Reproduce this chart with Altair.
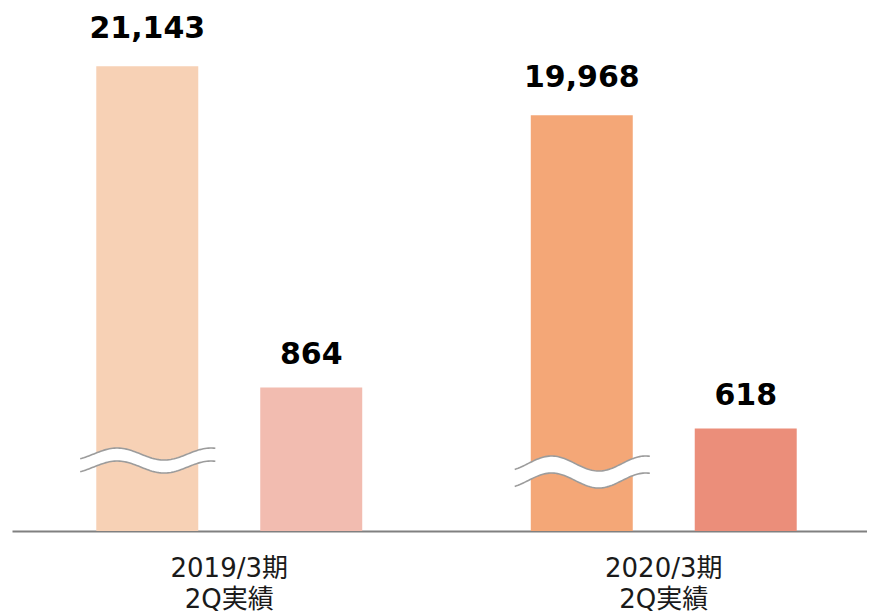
import altair as alt
import pandas as pd
import numpy as np

# ---- data ----
periods = ["2019/3期 2Q実績", "2020/3期 2Q実績"]
series_names = ["売上高", "営業利益"]
sales = [21143, 19968]
profit = [864, 618]

# broken axis: tall bars drawn on their own scale that starts at big_floor
big_floor = 10000
big_top = 22540
small_top = 3150

# break symbol (values on the tall-bar scale)
break_mid = [11846, 11618]
break_amp = [144, 180]
break_gap = [312, 408]

big_colors = ["#F7D1B5", "#F4A777"]
small_colors = ["#F2BCB0", "#EB8E7A"]

big_df = pd.DataFrame({"period": periods, "series": series_names[0], "value": sales})
small_df = pd.DataFrame({"period": periods, "series": series_names[1], "value": profit})

# wavy break decoration (in group units along x)
rows = []
for i, p in enumerate(periods):
    for r in np.linspace(-0.154, 0.157, 80):
        up = break_mid[i] + break_amp[i] * np.cos(2 * np.pi * (r + 0.069) / 0.2163)
        rows.append({"period": p, "x": i + 0.311 + r, "upper": up, "lower": up - break_gap[i]})
wave_df = pd.DataFrame(rows)

W, H = 859, 523
XR = [4, 873]

xscale = alt.Scale(domain=periods, range=XR, paddingInner=0, paddingOuter=0)
offscale = alt.Scale(type="band", domain=series_names, paddingInner=0.378, paddingOuter=0.514)
big_y = alt.Scale(domain=[big_floor, big_top], zero=False, nice=False)
small_y = alt.Scale(domain=[0, small_top], nice=False)

label_font = "DejaVu Sans, Noto Sans CJK JP"

x_axis = alt.Axis(
    title=None, labelExpr="split(datum.label, ' ')", labelAngle=0,
    ticks=False, tickSize=0, grid=False,
    domainColor="#808080", domainWidth=2,
    labelFont=label_font, labelFontSize=26, labelColor="#1a1a1a",
    labelPadding=24, labelLineHeight=31, labelBaseline="top",
)

big_bars = alt.Chart(big_df).mark_bar().encode(
    x=alt.X("period:N", scale=xscale, axis=x_axis, sort=periods),
    xOffset=alt.XOffset("series:N", scale=offscale),
    y=alt.Y("value:Q", scale=big_y, axis=None),
    y2=alt.datum(big_floor),
    color=alt.Color("period:N", scale=alt.Scale(domain=periods, range=big_colors), legend=None),
)

small_bars = alt.Chart(small_df).mark_bar().encode(
    x=alt.X("period:N", scale=xscale, axis=None, sort=periods),
    xOffset=alt.XOffset("series:N", scale=offscale),
    y=alt.Y("value:Q", scale=small_y, axis=None),
    color=alt.Color("period:N", scale=alt.Scale(domain=periods, range=small_colors), legend=None),
)

wave_x = alt.X("x:Q", scale=alt.Scale(domain=[0, 2], range=XR, nice=False, zero=False), axis=None)

wave_fill = alt.Chart(wave_df).mark_area(color="white", opacity=1).encode(
    x=wave_x,
    y=alt.Y("upper:Q", scale=big_y, axis=None),
    y2="lower:Q",
    detail="period:N",
)

wave_lines = alt.Chart(wave_df).transform_fold(
    ["upper", "lower"], as_=["edge", "val"]
).mark_line(color="#9c9c9c", strokeWidth=1.6).encode(
    x=wave_x,
    y=alt.Y("val:Q", scale=big_y, axis=None),
    detail=["period:N", "edge:N"],
)

text_style = dict(font="DejaVu Sans", fontSize=30, fontWeight="bold", color="black", baseline="alphabetic")

big_text = alt.Chart(big_df).mark_text(dy=-28.5, **text_style).encode(
    x=alt.X("period:N", scale=xscale, axis=None, sort=periods),
    xOffset=alt.XOffset("series:N", scale=offscale),
    y=alt.Y("value:Q", scale=big_y, axis=None),
    text=alt.Text("value:Q", format=","),
)

small_text = alt.Chart(small_df).mark_text(dy=-23.5, **text_style).encode(
    x=alt.X("period:N", scale=xscale, axis=None, sort=periods),
    xOffset=alt.XOffset("series:N", scale=offscale),
    y=alt.Y("value:Q", scale=small_y, axis=None),
    text=alt.Text("value:Q", format=","),
)

chart = alt.layer(
    big_bars, small_bars, wave_fill, wave_lines, big_text, small_text
).resolve_scale(
    x="independent", y="independent", color="independent", xOffset="independent"
).properties(
    width=W, height=H,
    autosize=alt.AutoSizeParams(type="none"),
    padding={"left": 0, "top": 0, "right": 0, "bottom": 82},
).configure_view(stroke=None)

chart.save("out.html", embed_options={"renderer": "svg", "actions": False})
